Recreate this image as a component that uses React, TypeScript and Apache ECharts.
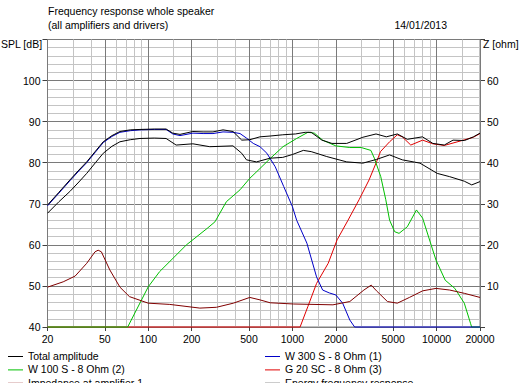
import React, { useEffect, useRef } from "react";
import * as echarts from "echarts";

// ---- data ----
const totalFreq = [20, 24, 28.6, 33, 37.4, 43, 48.7, 56, 63.6, 75, 87.6, 110, 133, 148, 166, 204, 240, 281, 330, 387, 445, 506, 595, 700, 857, 1050, 1226, 1350, 1600, 1880, 2380, 3080, 3800, 4480, 5340, 6260, 7980, 9420, 11300, 13000, 15600, 18000, 20000];
const totalDb = [69.7, 72.8, 75.8, 78.2, 80.2, 82.8, 85.1, 86.6, 87.6, 88.0, 88.1, 88.2, 88.2, 87.2, 86.9, 87.6, 87.5, 87.5, 88.0, 87.6, 85.5, 85.6, 86.3, 86.5, 86.8, 87.0, 87.4, 87.4, 85.5, 84.7, 84.7, 86.2, 87.0, 86.3, 87.0, 85.7, 86.3, 84.7, 84.3, 85.5, 85.4, 86.3, 87.2];

const energyFreq = [20, 24, 28.6, 33, 37.4, 43, 48.7, 56, 63.6, 75, 87.6, 110, 133, 156, 204, 267, 387, 445, 480, 563, 700, 857, 1000, 1190, 1350, 1730, 2380, 3080, 3830, 4720, 5780, 7670, 10100, 12330, 15560, 17530, 20000];
const energyDb = [67.7, 70.5, 73.0, 75.3, 77.4, 80.0, 82.3, 84.0, 85.1, 85.6, 85.9, 86.0, 85.9, 84.3, 84.6, 83.9, 84.1, 82.3, 80.7, 80.2, 81.1, 81.3, 82.0, 83.0, 82.7, 81.5, 80.2, 79.9, 80.8, 81.9, 80.7, 79.9, 77.4, 76.6, 75.5, 74.6, 75.4];

const w300Freq = [20, 24, 28.6, 33, 37.4, 43, 48.7, 56, 63.6, 75, 87.6, 110, 133, 148, 166, 204, 240, 281, 330, 387, 433, 480, 535, 596, 665, 760, 870, 1000, 1070, 1260, 1470, 1620, 1800, 2000, 2230, 2500, 2700, 20000];
const w300Db = [69.5, 72.6, 75.6, 78.0, 80.0, 82.6, 84.9, 86.4, 87.4, 87.8, 88.0, 88.1, 88.1, 87.0, 86.6, 87.2, 87.1, 87.1, 87.5, 87.4, 87.1, 86.0, 84.7, 83.9, 82.3, 79.0, 74.2, 69.3, 66.0, 60.4, 52.2, 49.0, 48.3, 47.8, 45.8, 41.7, 40.0, 40.0];

const w100Freq = [20, 72, 100, 120, 184, 256, 290, 348, 433, 506, 596, 700, 860, 1070, 1280, 1420, 1620, 2000, 2500, 3000, 3500, 3700, 4100, 4440, 4720, 5120, 5490, 6260, 7250, 8000, 9900, 11470, 13380, 15560, 17190, 17500, 20000];
const w100Db = [40, 40, 49.8, 53.5, 60, 64, 65.6, 70.5, 73.4, 76.2, 78.6, 81.0, 83.9, 85.9, 87.4, 87.2, 85.5, 84.1, 83.7, 83.7, 83.0, 81.1, 76.6, 71.0, 66.0, 63.2, 62.8, 64.4, 68.5, 66.5, 56.3, 51.4, 49.4, 45.8, 40.9, 40, 40];

const g20Freq = [20, 1130, 1280, 1470, 1770, 2040, 2430, 2900, 3400, 3830, 4080, 4720, 5340, 5780, 6620, 8000, 9420, 11300, 15000, 18000, 20000];
const g20Db = [40, 40, 45, 50.6, 55.5, 61.2, 66, 71, 75.8, 80.2, 82.7, 85.1, 86.8, 86.3, 84.3, 85.5, 84.6, 84.2, 85.4, 86.2, 87.1];

const impFreq = [20, 25.7, 31.1, 37.4, 42.7, 44.9, 47.3, 54.1, 63.6, 74, 100, 141, 228, 297, 389, 506, 596, 700, 1020, 1910, 2500, 3130, 3520, 3830, 4560, 5340, 6480, 8000, 9900, 12330, 15560, 20000];
const impOhm = [9.7, 11.0, 12.4, 15.5, 18.3, 18.7, 18.3, 13.9, 9.7, 7.4, 5.8, 5.5, 4.6, 4.8, 5.8, 7.2, 6.6, 5.9, 5.6, 5.4, 6.2, 9.0, 10.2, 8.8, 6.2, 5.8, 7.2, 8.8, 9.4, 9.0, 8.2, 7.2];

const labelFreqs = [20, 50, 100, 200, 500, 1000, 2000, 5000, 10000, 20000];
const minorFreqs = [30, 40, 60, 70, 80, 90, 150, 300, 400, 600, 700, 800, 900, 1500, 3000, 4000, 6000, 7000, 8000, 9000, 15000];

const legendNames = [
  "Total amplitude",
  "W 300 S - 8 Ohm (1)",
  "W 100 S - 8 Ohm (2)",
  "G 20 SC - 8 Ohm (3)",
  "Impedance at amplifier 1",
  "Energy frequency response",
];

const titleLine1 = "Frequency response whole speaker";
const titleLine2 = "(all amplifiers and drivers)";
const dateText = "14/01/2013";

const FONT = '10.5px "Liberation Sans", Arial, sans-serif';
const C_TOTAL = "#000000";
const C_W300 = "#0000c8";
const C_W100 = "#00c000";
const C_G20 = "#e00000";
const C_IMP = "#800000";
const C_ENERGY = "#000000";

const lg = (f: number) => Math.log10(f);
const pairs = (fs: number[], vs: number[]) => fs.map((f, i) => [lg(f), vs[i]]);

export default function App() {
  const ref = useRef<HTMLDivElement>(null);
  useEffect(() => {
    if (!ref.current) return;
    const chart = echarts.init(ref.current, undefined, { renderer: "svg" });
    const xmin = lg(20);
    const xmax = lg(20000);
    const lineSeries = (name: string, data: number[][], color: string, yAxisIndex = 0) => ({
      name,
      type: "line",
      data,
      xAxisIndex: 0,
      yAxisIndex,
      showSymbol: false,
      symbol: "none",
      clip: false,
      lineStyle: { color, width: 1 },
      itemStyle: { color },
      emphasis: { disabled: true },
    });
    const legendRows = [
      [legendNames[0], C_TOTAL, legendNames[1], C_W300],
      [legendNames[2], C_W100, legendNames[3], C_G20],
      [legendNames[4], C_IMP, legendNames[5], C_ENERGY],
    ];
    const graphics: any[] = [
      { type: "text", x: 48, y: 11, style: { text: titleLine1, font: FONT, fill: "#000", verticalAlign: "middle", align: "left" } },
      { type: "text", x: 48, y: 25, style: { text: titleLine2, font: FONT, fill: "#000", verticalAlign: "middle", align: "left" } },
      { type: "text", x: 447, y: 25, style: { text: dateText, font: FONT, fill: "#000", verticalAlign: "middle", align: "right" } },
      { type: "text", x: 1, y: 44, style: { text: "SPL [dB]", font: FONT, fill: "#000", verticalAlign: "middle", align: "left" } },
      { type: "text", x: 483, y: 44, style: { text: "Z [ohm]", font: FONT, fill: "#000", verticalAlign: "middle", align: "left" } },
    ];
    legendRows.forEach((row, i) => {
      const y = 356 + i * 13.4;
      graphics.push(
        { type: "line", shape: { x1: 8, y1: y + 0.5, x2: 23, y2: y + 0.5 }, style: { stroke: row[1], lineWidth: 1 } },
        { type: "text", x: 28, y, style: { text: row[0], font: FONT, fill: "#000", verticalAlign: "middle", align: "left" } },
        { type: "line", shape: { x1: 265, y1: y + 0.5, x2: 280, y2: y + 0.5 }, style: { stroke: row[3], lineWidth: 1 } },
        { type: "text", x: 285, y, style: { text: row[2], font: FONT, fill: "#000", verticalAlign: "middle", align: "left" } }
      );
    });

    chart.setOption({
      animation: false,
      backgroundColor: "#ffffff",
      textStyle: { fontFamily: '"Liberation Sans", Arial, sans-serif' },
      grid: { left: 47.5, top: 39.5, width: 432.5, height: 287.5, show: true, borderColor: "#808080", borderWidth: 1 },
      xAxis: [
        {
          type: "value",
          min: xmin,
          max: xmax,
          axisLine: { show: true, lineStyle: { color: "#808080" } },
          axisTick: { show: true, length: 4, customValues: labelFreqs.map(lg), lineStyle: { color: "#404040" } },
          axisLabel: {
            customValues: labelFreqs.map(lg),
            formatter: (v: number) => String(Math.round(Math.pow(10, v))),
            color: "#000",
            fontSize: 10.5,
            margin: 6,
            showMinLabel: true,
            showMaxLabel: true,
          },
          splitLine: { show: true, lineStyle: { color: "#7a7a7a", width: 1 } },
          z: 1,
        },
        {
          type: "value",
          min: xmin,
          max: xmax,
          position: "bottom",
          axisLine: { show: false },
          axisTick: { show: false, customValues: minorFreqs.map(lg) },
          axisLabel: { show: false, customValues: minorFreqs.map(lg) },
          splitLine: { show: true, lineStyle: { color: "#c4c4c4", width: 1 } },
          z: 0,
        },
      ],
      yAxis: [
        {
          type: "value",
          position: "left",
          min: 40,
          max: 110,
          interval: 10,
          axisLine: { show: true, lineStyle: { color: "#808080" } },
          axisTick: { show: true, length: 5, lineStyle: { color: "#404040" } },
          axisLabel: {
            color: "#000",
            fontSize: 10.5,
            margin: 7,
            formatter: (v: number) => (v > 100 ? "" : String(v)),
          },
          splitLine: { show: true, lineStyle: { color: "#7a7a7a", width: 1 } },
          minorTick: { show: false, splitNumber: 5 },
          minorSplitLine: { show: true, lineStyle: { color: "#c4c4c4", width: 1 } },
        },
        {
          type: "value",
          position: "right",
          min: 0,
          max: 70,
          interval: 10,
          axisLine: { show: true, lineStyle: { color: "#808080" } },
          axisTick: { show: true, length: 5, lineStyle: { color: "#404040" } },
          axisLabel: {
            color: "#000",
            fontSize: 10.5,
            margin: 7,
            formatter: (v: number) => (v <= 0 || v >= 70 ? "" : String(v)),
          },
          splitLine: { show: false },
        },
      ],
      graphic: graphics,
      series: [
        lineSeries(legendNames[3], pairs(g20Freq, g20Db), C_G20),
        lineSeries(legendNames[2], pairs(w100Freq, w100Db), C_W100),
        lineSeries(legendNames[1], pairs(w300Freq, w300Db), C_W300),
        lineSeries(legendNames[4], pairs(impFreq, impOhm), C_IMP, 1),
        lineSeries(legendNames[5], pairs(energyFreq, energyDb), C_ENERGY),
        lineSeries(legendNames[0], pairs(totalFreq, totalDb), C_TOTAL),
      ],
    });
    return () => chart.dispose();
  }, []);
  return (
    <div
      ref={ref}
      style={{ position: "fixed", left: 0, top: 0, width: 526, height: 383, background: "#fff" }}
    />
  );
}
